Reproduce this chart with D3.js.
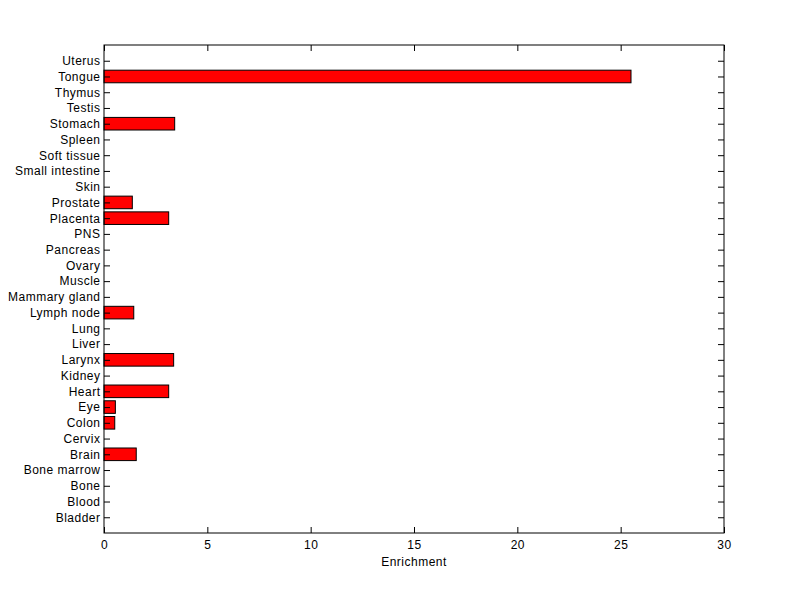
<!DOCTYPE html>
<html lang="en">
<head>
  <meta charset="UTF-8">
  <title>Enrichment by tissue</title>
  <script src="https://d3js.org/d3.v7.min.js"></script>
  <style>
    body { margin: 0; background: #fff; }
    text { font-family: "Liberation Sans", Arial, sans-serif; font-size: 12px; letter-spacing: 0.5px; fill: #000; }
  </style>
</head>
<body>
  <div id="chart"></div>
  <script>
    // tissues, bottom to top
    const tissues = ['Bladder', 'Blood', 'Bone', 'Bone marrow', 'Brain', 'Cervix', 'Colon', 'Eye',
      'Heart', 'Kidney', 'Larynx', 'Liver', 'Lung', 'Lymph node', 'Mammary gland', 'Muscle',
      'Ovary', 'Pancreas', 'PNS', 'Placenta', 'Prostate', 'Skin', 'Small intestine',
      'Soft tissue', 'Spleen', 'Stomach', 'Testis', 'Thymus', 'Tongue', 'Uterus'];
    const enrichment = [0, 0, 0, 0, 1.56, 0, 0.52, 0.55,
      3.13, 0, 3.37, 0, 0, 1.44, 0, 0,
      0, 0, 0, 3.13, 1.37, 0, 0,
      0, 0, 3.42, 0, 0, 25.5, 0];
    const xTicks = [0, 5, 10, 15, 20, 25, 30];

    const W = 800, H = 599;
    const margin = { top: 45, right: 76, bottom: 66, left: 104 };
    const width = W - margin.left - margin.right;
    const height = H - margin.top - margin.bottom;

    const x = d3.scaleLinear().domain([0, 30]).range([0, width]);
    const y = d3.scaleLinear().domain([0, tissues.length + 1]).range([height, 0]);
    const barH = (y(0) - y(0.8));

    const svg = d3.select('#chart').append('svg')
      .attr('width', W).attr('height', H)
      .append('g')
      .attr('transform', `translate(${margin.left},${margin.top})`);

    // bars
    svg.selectAll('.bar')
      .data(tissues)
      .enter()
      .append('rect')
      .attr('class', 'bar')
      .attr('x', x(0))
      .attr('y', (d, i) => y(i + 1) - barH / 2)
      .attr('width', (d, i) => x(enrichment[i]) - x(0))
      .attr('height', barH)
      .attr('fill', '#ff0000')
      .attr('stroke', '#000')
      .attr('stroke-width', 1);

    const yTickVals = tissues.map((d, i) => i + 1);

    // axes (ticks pointing inward, MATLAB style)
    svg.append('g')
      .attr('transform', `translate(0,${height})`)
      .call(d3.axisBottom(x).tickValues(xTicks).tickSize(-6).tickPadding(7))
      .call(g => g.select('.domain').remove());
    svg.append('g')
      .call(d3.axisTop(x).tickValues(xTicks).tickSize(-6).tickFormat(''))
      .call(g => g.select('.domain').remove());
    svg.append('g')
      .call(d3.axisLeft(y).tickValues(yTickVals).tickSize(-6).tickPadding(3.5)
        .tickFormat(d => tissues[d - 1]))
      .call(g => g.select('.domain').remove());
    svg.append('g')
      .attr('transform', `translate(${width},0)`)
      .call(d3.axisRight(y).tickValues(yTickVals).tickSize(-6).tickFormat(''))
      .call(g => g.select('.domain').remove());

    svg.selectAll('.tick line').attr('stroke', '#000');

    // box
    svg.append('rect')
      .attr('width', width).attr('height', height)
      .attr('fill', 'none').attr('stroke', '#000');

    svg.selectAll('.tick text').style('font-size', '12px').attr('fill', '#000');

    svg.append('text')
      .attr('x', width / 2)
      .attr('y', height + 33)
      .attr('text-anchor', 'middle')
      .text('Enrichment');
  </script>
</body>
</html>
